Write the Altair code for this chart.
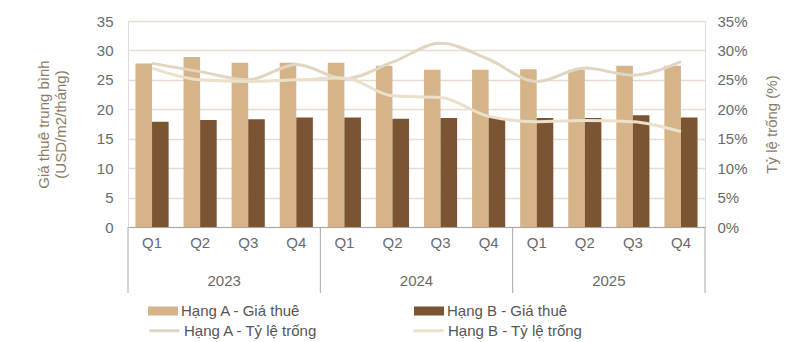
import altair as alt
import pandas as pd

years = ["2023", "2024", "2025"]
quarters = ["Q1", "Q2", "Q3", "Q4"]
keys = [f"{y}-{q}" for y in years for q in quarters]

rent_a = [27.8, 28.9, 27.9, 27.9, 27.9, 27.4, 26.7, 26.7, 26.8, 26.7, 27.4, 27.4]
rent_b = [17.9, 18.2, 18.3, 18.6, 18.6, 18.4, 18.5, 18.5, 18.5, 18.5, 19.0, 18.6]
vac_a = [27.8, 26.4, 25.0, 27.6, 25.2, 28.0, 31.2, 28.5, 24.7, 27.0, 25.8, 28.1]
vac_b = [27.0, 25.0, 24.7, 25.0, 25.3, 22.3, 22.0, 18.8, 17.9, 18.1, 17.9, 16.2]

ser_bar = ["Hạng A - Giá thuê", "Hạng B - Giá thuê"]
ser_line = ["Hạng A - Tỷ lệ trống", "Hạng B - Tỷ lệ trống"]

bars_df = pd.DataFrame(
    [{"key": k, "series": ser_bar[0], "value": v} for k, v in zip(keys, rent_a)]
    + [{"key": k, "series": ser_bar[1], "value": v} for k, v in zip(keys, rent_b)]
)
lines_df = pd.DataFrame(
    [{"key": k, "series": ser_line[0], "value": v / 100} for k, v in zip(keys, vac_a)]
    + [{"key": k, "series": ser_line[1], "value": v / 100} for k, v in zip(keys, vac_b)]
)
sep_start = pd.DataFrame({"key": [f"{y}-Q1" for y in years]})
sep_end = pd.DataFrame({"key": [keys[-1]]})
year_df = pd.DataFrame({"key": [f"{y}-Q2" for y in years], "year": years})

W, H = 577, 206
FONT = "Liberation Sans"
TXT = "#6a6a6a"
TITLE = "#8a7c66"
GRID = "#e6ddcd"
AX = "#a9a9a9"
FS = 15

xscale = alt.Scale(domain=keys, paddingInner=0, paddingOuter=0)

bars = alt.Chart(bars_df).mark_bar().encode(
    x=alt.X("key:N", scale=xscale, sort=keys,
            axis=alt.Axis(title=None, labelExpr="split(datum.label, '-')[1]",
                          labelAngle=0, ticks=False, domain=True, domainColor=AX,
                          labelPadding=8, labelFontSize=FS, labelColor=TXT, labelFont=FONT)),
    xOffset=alt.XOffset("series:N", scale=alt.Scale(domain=ser_bar, paddingInner=0, paddingOuter=0.45)),
    y=alt.Y("value:Q", scale=alt.Scale(domain=[0, 35]),
            axis=alt.Axis(values=[0, 5, 10, 15, 20, 25, 30, 35], title=["Giá thuê trung bình", "(USD/m2/tháng)"],
                          titleFontSize=FS, titleFontWeight="normal", titleColor=TITLE, titleFont=FONT,
                          titlePadding=28, titleLineHeight=17,
                          labelFontSize=FS, labelColor=TXT, labelFont=FONT, labelPadding=15,
                          ticks=False, domain=False, grid=True, gridColor=GRID, gridWidth=1.5)),
    fill=alt.Fill("series:N", scale=alt.Scale(domain=ser_bar, range=["#d5b48a", "#7b5532"]),
                  legend=alt.Legend(orient="none", legendX=20, legendY=275, direction="horizontal",
                                    columns=2, columnPadding=112, title=None,
                                    symbolType="M-1,-0.3L1,-0.3L1,0.3L-1,0.3Z", symbolSize=900,
                                    symbolStrokeWidth=0, labelFontSize=FS, labelColor="#555555",
                                    labelFont=FONT, labelOffset=3)),
)

lines = alt.Chart(lines_df).mark_line(strokeWidth=3, interpolate="monotone").encode(
    x=alt.X("key:N", scale=xscale, sort=keys),
    y=alt.Y("value:Q", scale=alt.Scale(domain=[0, 0.35]),
            axis=alt.Axis(orient="right", values=[0, 0.05, 0.1, 0.15, 0.2, 0.25, 0.3, 0.35], format=".0%",
                          title="Tỷ lệ trống (%)", titleAngle=270, titleX=66, titleY=H / 2,
                          titleAlign="center", titleBaseline="middle",
                          titleFontSize=FS, titleFontWeight="normal", titleColor=TITLE, titleFont=FONT,
                          labelFontSize=FS, labelColor=TXT, labelFont=FONT, labelPadding=12,
                          ticks=False, domain=False, grid=False)),
    stroke=alt.Stroke("series:N", scale=alt.Scale(domain=ser_line, range=["#e1d6c2", "#ebe0ca"]),
                      legend=alt.Legend(orient="none", legendX=20, legendY=293, direction="horizontal",
                                        columns=2, columnPadding=88, title=None,
                                        symbolType="stroke", symbolSize=900, symbolStrokeWidth=3,
                                        labelFontSize=FS, labelColor="#555555",
                                        labelFont=FONT, labelOffset=3)),
)

sep1 = alt.Chart(sep_start).mark_rule(color=AX, strokeWidth=1).encode(
    x=alt.X("key:N", scale=xscale, sort=keys, bandPosition=0),
    y=alt.value(H), y2=alt.value(H + 66),
)
sep2 = alt.Chart(sep_end).mark_rule(color=AX, strokeWidth=1).encode(
    x=alt.X("key:N", scale=xscale, sort=keys, bandPosition=1),
    y=alt.value(H), y2=alt.value(H + 66),
)
yrs = alt.Chart(year_df).mark_text(fontSize=FS, color=TXT, font=FONT, baseline="middle").encode(
    x=alt.X("key:N", scale=xscale, sort=keys, bandPosition=1),
    y=alt.value(H + 54),
    text="year:N",
)

chart = alt.layer(bars, lines, sep1, sep2, yrs).resolve_scale(
    y="independent", fill="independent", stroke="independent"
).properties(
    width=W, height=H,
    autosize=alt.AutoSizeParams(type="none"),
    padding={"left": 128, "top": 21, "right": 93, "bottom": 115},
).configure_view(stroke=None).configure(background="white")

chart.save("out.html", embed_options={"renderer": "svg", "actions": False})
